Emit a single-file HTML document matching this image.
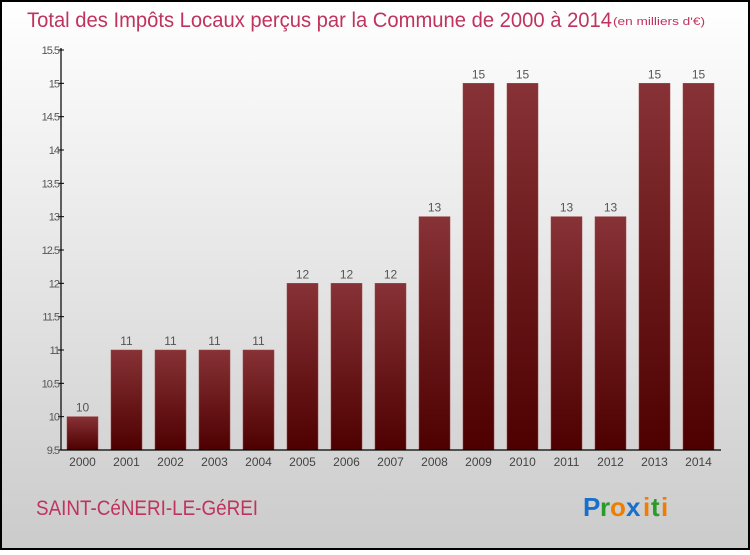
<!DOCTYPE html>
<html><head><meta charset="utf-8"><style>
body{margin:0;width:750px;height:550px;overflow:hidden;font-family:"Liberation Sans",sans-serif}
</style></head><body>
<svg id="c" width="750" height="550" xmlns="http://www.w3.org/2000/svg">
<defs>
<linearGradient id="bg" x1="0" y1="0" x2="0" y2="1"><stop offset="0" stop-color="#ffffff"/><stop offset="1" stop-color="#cbcbcb"/></linearGradient>
<linearGradient id="bar" x1="0" y1="0" x2="0" y2="1"><stop offset="0" stop-color="#873236"/><stop offset="1" stop-color="#4e0000"/></linearGradient>
</defs>
<rect x="1" y="1" width="748" height="548" fill="url(#bg)" stroke="#000" stroke-width="2"/>
<text x="27" y="27" font-size="21" fill="#c0335f" textLength="585" lengthAdjust="spacingAndGlyphs">Total des Impôts Locaux perçus par la Commune de 2000 à 2014</text>
<text x="613" y="25" font-size="11" fill="#c0335f" textLength="92" lengthAdjust="spacingAndGlyphs">(en milliers d'€)</text>
<g id="plot"></g>
<text x="36" y="515" font-size="21" fill="#c0335f" textLength="222" lengthAdjust="spacingAndGlyphs">SAINT-CéNERI-LE-GéREI</text>
<g font-size="26" font-weight="bold" font-family="Liberation Sans,sans-serif">
<text x="583" y="516" fill="#1a6fc9">P</text><text x="600" y="516" fill="#2a9a2a">r</text><text x="610" y="516" fill="#f07d00">o</text><text x="626" y="516" fill="#1a6fc9">x</text><text x="643" y="516" fill="#f07d00">i</text><text x="651" y="516" fill="#2a9a2a">t</text><text x="661" y="516" fill="#f07d00">i</text>
</g>
</svg>
<script>
const years=["2000","2001","2002","2003","2004","2005","2006","2007","2008","2009","2010","2011","2012","2013","2014"];
const values=[10,11,11,11,11,12,12,12,13,15,15,13,13,15,15];
const yTicks=[9.5,10,10.5,11,11.5,12,12.5,13,13.5,14,14.5,15,15.5];
const yLabels=["9.5","10","10.5","11","11.5","12","12.5","13","13.5","14","14.5","15","15.5"];
const ns="http://www.w3.org/2000/svg";
const g=document.getElementById('plot');
const x0=61,x1=721,yTop=50,yBot=450,vMin=9.5,vMax=15.5;
const yS=v=>yBot-(v-vMin)/(vMax-vMin)*(yBot-yTop);
const step=44,bw=31;
const xC=i=>82.5+i*step;
function el(t,a){const e=document.createElementNS(ns,t);for(const k in a)e.setAttribute(k,a[k]);g.appendChild(e);return e;}
values.forEach((v,i)=>{
 const r=el('rect',{x:xC(i)-bw/2,y:yS(v),width:bw,height:yBot-yS(v),fill:'url(#bar)',stroke:'#a04040','stroke-width':0.5});
 
 
 const t=el('text',{x:xC(i),y:yS(v)-5,'font-size':12,fill:'#555','text-anchor':'middle'});t.textContent=String(v);
 
 
 const xl=el('text',{x:xC(i),y:466,'font-size':12,fill:'#444','text-anchor':'middle'});xl.textContent=years[i];
 
 
});
yTicks.forEach((v,i)=>{
 el('line',{x1:x0-3,x2:x0+3,y1:yS(v),y2:yS(v),stroke:'#000'});
 const t=el('text',{x:x0-2,y:yS(v)+4,'font-size':11,fill:'#555','text-anchor':'end','letter-spacing':'-1'});t.textContent=yLabels[i];
 
 
});
const ya=el('line',{x1:x0,x2:x0,y1:yTop-2,y2:yBot,stroke:'#000','stroke-width':1.2});


const xa=el('line',{x1:x0,x2:x1,y1:yBot,y2:yBot,stroke:'#000','stroke-width':1.2});


</script>
</body></html>
